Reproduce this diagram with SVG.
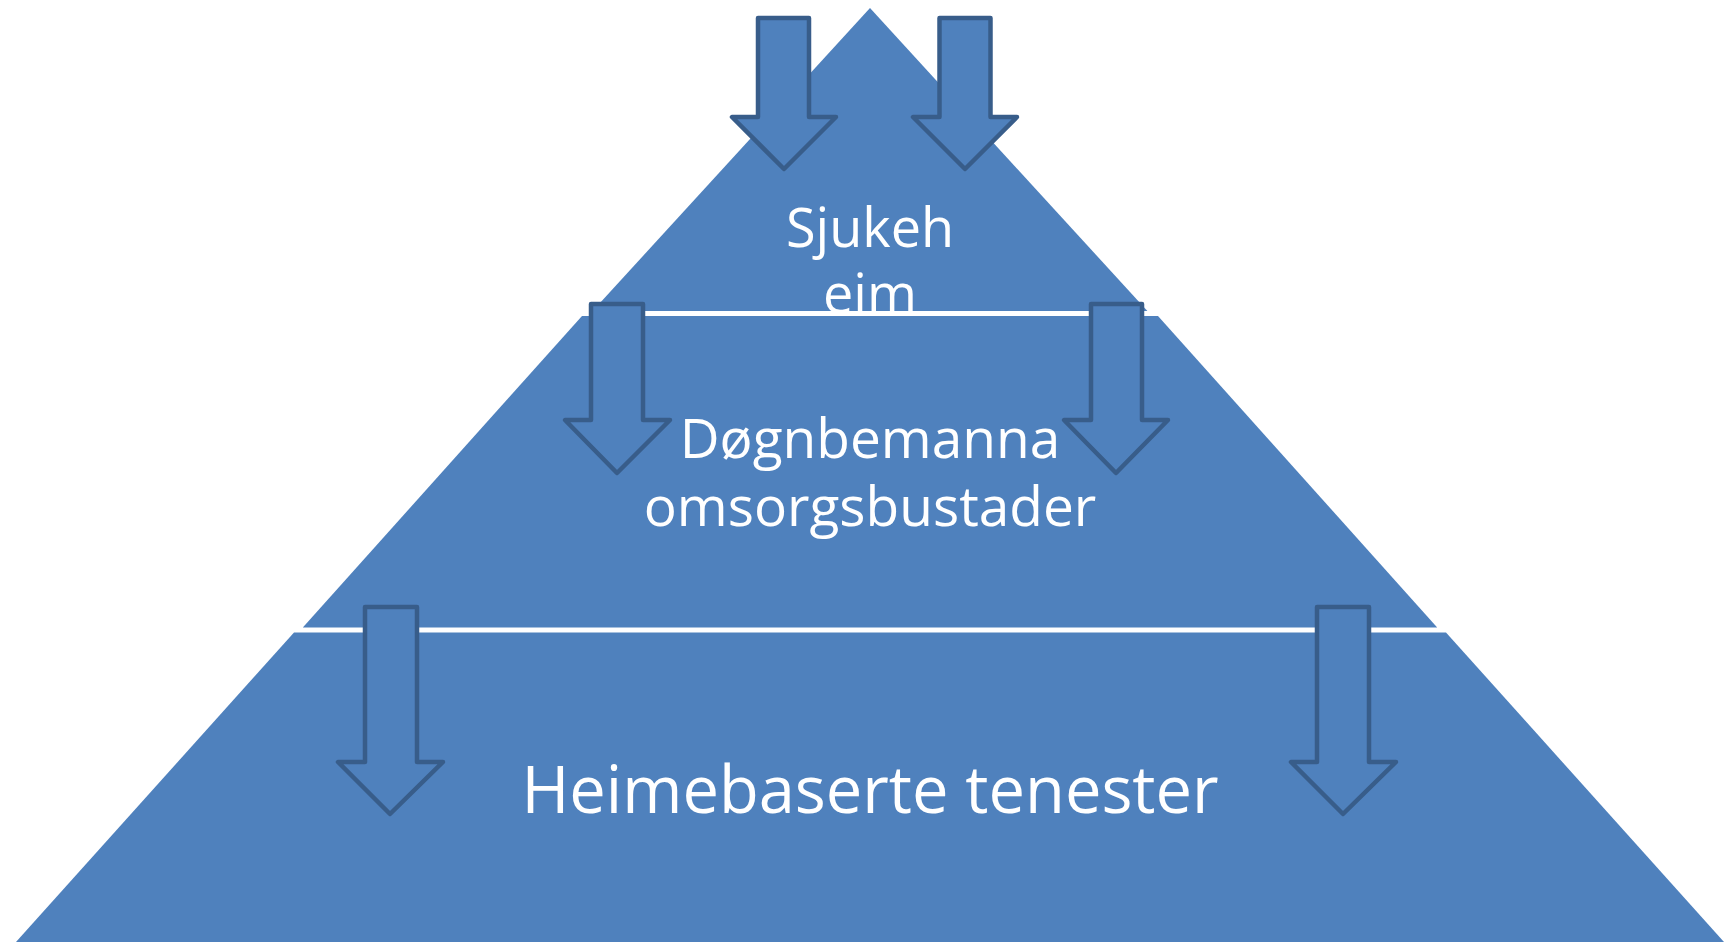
<svg xmlns="http://www.w3.org/2000/svg" width="1733" height="942" viewBox="0 0 1733 942">
<style>
.lvl{fill:#4F81BD;stroke:none}
.lbl{fill:#FFFFFF;font-family:"Open Sans","Noto Sans","Liberation Sans",sans-serif;text-anchor:middle}
.arr{fill:#4F81BD;stroke:#385D8A;stroke-width:4.5;stroke-linejoin:round}
</style>
<rect width="1733" height="942" fill="#FFFFFF"/>
<g id="level-top">
<polygon class="lvl" points="870,8 1147.4,311 592.6,311"/>
<text class="lbl" x="870" y="247" font-size="54">Sjukeh</text>
<text class="lbl" x="870" y="313" font-size="54">eim</text>
</g>
<g id="level-middle">
<polygon class="lvl" points="582,316 1158,316 1437.2,627.5 302.8,627.5"/>
<text class="lbl" x="870" y="458" font-size="55">Døgnbemanna</text>
<text class="lbl" x="870" y="526" font-size="55">omsorgsbustader</text>
</g>
<g id="level-bottom">
<polygon class="lvl" points="294,632.5 1446,632.5 1733,952 7,952"/>
<text class="lbl" x="870" y="813" font-size="65">Heimebaserte tenester</text>
</g>
<g id="arrows">
<path id="arrow-1" class="arr" d="M758,18 H809 V117 H836 L784,169 L732,117 H758 Z"/>
<path id="arrow-2" class="arr" d="M939.5,18 H990.5 V117 H1017 L965,169 L913,117 H939.5 Z"/>
<path id="arrow-3" class="arr" d="M591,304 H643 V420 H670 L617,473 L565,420 H591 Z"/>
<path id="arrow-4" class="arr" d="M1091,304 H1142 V420 H1168 L1116,473 L1064,420 H1091 Z"/>
<path id="arrow-5" class="arr" d="M365,607 H417 V762 H443 L390,814 L338,762 H365 Z"/>
<path id="arrow-6" class="arr" d="M1317,607 H1369 V762 H1396 L1343,814 L1291,762 H1317 Z"/>
</g>
</svg>
